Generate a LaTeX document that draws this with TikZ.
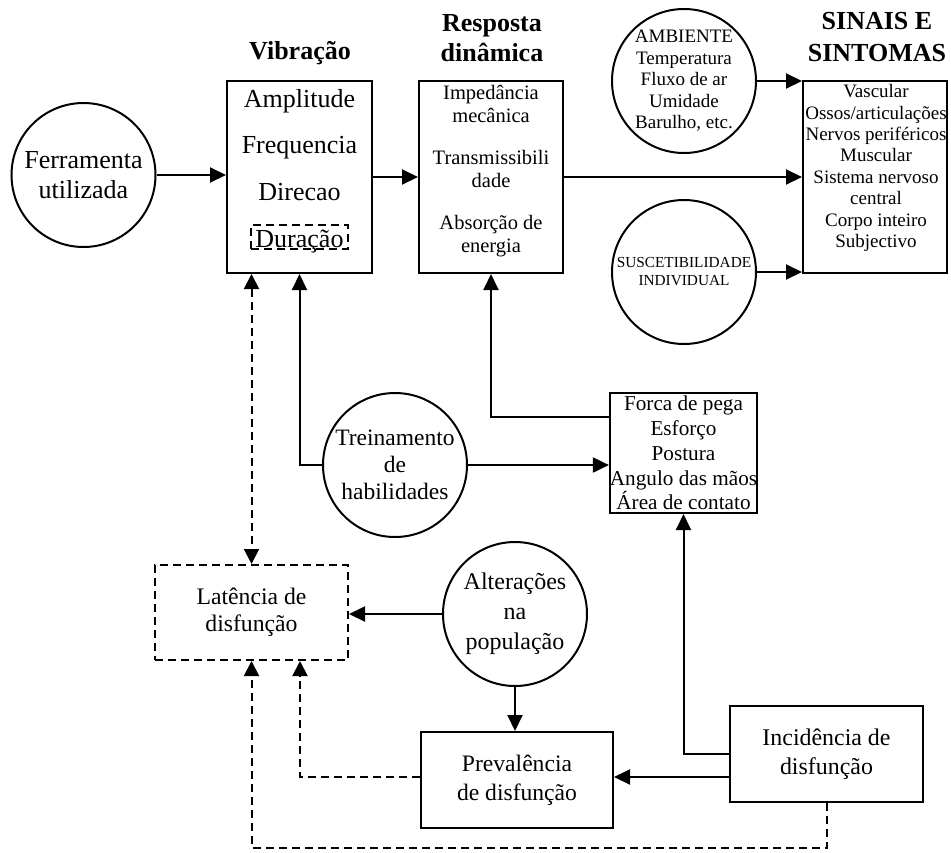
\documentclass[tikz,border=0pt]{standalone}
\usepackage{fontspec}
\setmainfont{Liberation Serif}
\usetikzlibrary{arrows.meta}
\tikzset{
  box/.style={draw, line width=2pt, rectangle, inner sep=0pt, align=center},
  circ/.style={draw, line width=2pt, circle, minimum size=144pt, inner sep=0pt, align=center},
  txt/.style={inner sep=0pt, align=center},
  arr/.style={line width=2pt, -{Triangle[length=16pt,width=15pt]}},
  darr/.style={line width=2pt, dash pattern=on 8pt off 5pt, -{Triangle[length=15pt,width=15pt]}},
  dline/.style={line width=2pt, dash pattern=on 8pt off 5pt},
}
\newcommand{\fs}[2]{\fontsize{#1}{#2}\selectfont}
\begin{document}
\begin{tikzpicture}[x=1pt,y=-1pt]
\useasboundingbox (0,0) rectangle (951,852);

% titles
\node[txt, font=\bfseries\fs{26}{30}] (tvib) at (300,53) {Vibração};
\node[txt, font=\bfseries\fs{26}{30}] (tresp) at (492,38) {Resposta\\dinâmica};
\node[txt, font=\bfseries\fs{26}{32}] (tsin) at (877,37) {SINAIS E\\SINTOMAS};

% top row
\node[circ, font=\fs{26}{30}] (ferr) at (83.5,175) {Ferramenta\\utilizada};
\node[box, minimum width=145pt, minimum height=192pt] (vib) at (299.5,177) {};
\node[txt, font=\fs{26}{46.7}] (vibt) at (299.5,171) {Amplitude\\Frequencia\\Direcao\\Duração};
\node[draw, dline, line width=1.6pt, minimum width=97pt, minimum height=24pt, inner sep=0pt] (dur) at (299.5,237) {};

\node[box, minimum width=144pt, minimum height=192pt] (resp) at (491,177) {};
\node[txt, font=\fs{20.5}{23}] (respt) at (491,171.5) {Impedância\\mecânica\\[19pt]Transmissibili\\dade\\[19pt]Absorção de\\energia};

\node[circ, font=\fs{19}{21.5}] (amb) at (684,81) {AMBIENTE\\Temperatura\\Fluxo de ar\\Umidade\\Barulho, etc.};
\node[circ, font=\fs{15.3}{18}] (susc) at (684,272) {SUSCETIBILIDADE\\INDIVIDUAL};

\node[box, minimum width=144pt, minimum height=192pt] (sin) at (875,177) {};
\node[txt, font=\fs{19}{21.4}] (sint) at (876,168) {Vascular\\Ossos/articulações\\Nervos periféricos\\Muscular\\Sistema nervoso\\central\\Corpo inteiro\\Subjectivo};

% middle
\node[circ, font=\fs{23.5}{27}] (trein) at (395,465) {Treinamento\\de\\habilidades};
\node[box, minimum width=145pt, minimum height=120pt, font=\fs{21.2}{24.75}] (forca) at (683.5,453) {Forca de pega\\Esforço\\Postura\\Angulo das mãos\\Área de contato};

% bottom
\node[draw, dline, minimum width=193pt, minimum height=95pt, inner sep=0pt, align=center, font=\fs{23.7}{27}] (lat) at (251.5,612.5) {Latência de\\disfunção};
\node[circ, font=\fs{24}{30}] (alt) at (515,614) {Alterações\\na\\população};
\node[box, minimum width=192pt, minimum height=96pt, font=\fs{23.6}{29}] (prev) at (517,780) {Prevalência\\de disfunção};
\node[box, minimum width=193pt, minimum height=96pt, font=\fs{23.9}{29}] (inc) at (826.5,754) {Incidência de\\disfunção};

\coordinate (bot) at (0,848);
\coordinate (incw) at ([yshift=-23pt]inc.west);
\coordinate (forw) at ([yshift=36pt]forca.west);
\coordinate (prevw) at ([yshift=3pt]prev.west);
\coordinate (latd) at ([xshift=48.5pt]lat.south);

% connectors
\draw[arr] (ferr.east) -- (vib.west |- ferr.east);
\draw[arr] (vib.east) -- (resp.west);
\draw[arr] (amb.east) -- (sin.west |- amb.east);
\draw[arr] (resp.east) -- (sin.west);
\draw[arr] (susc.east) -- (sin.west |- susc.east);
\draw[arr] (trein.west) -| (vib.south);
\draw[arr] (trein.east) -- (forca.west |- trein.east);
\draw[arr] (forw) -| (resp.south);
\draw[darr, {Triangle[length=15pt,width=15pt]}-{Triangle[length=15pt,width=15pt]}] (lat.north |- vib.south) -- (lat.north);
\draw[arr] (alt.west) -- (lat.east |- alt.west);
\draw[arr] (alt.south) -- (prev.north -| alt.south);
\draw[arr] (incw) -- (prev.east |- incw);
\draw[arr] (inc.west) -| (forca.south);
\draw[darr] (prevw) -| (latd);
\draw[darr] (inc.south) |- (bot -| lat.south) -- (lat.south);
\end{tikzpicture}
\end{document}
